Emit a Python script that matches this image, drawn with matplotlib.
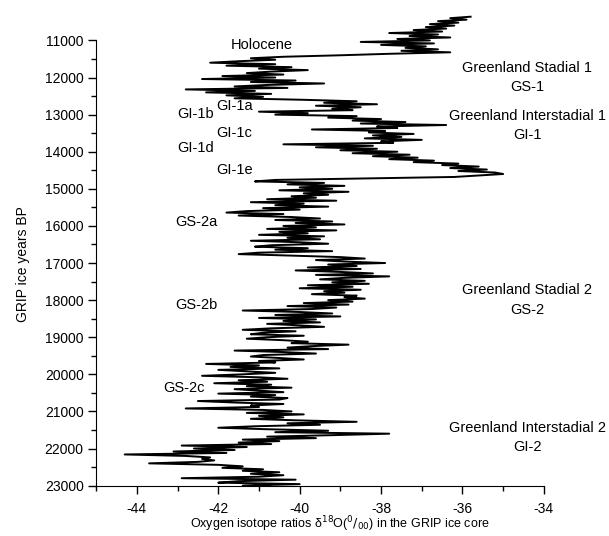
import matplotlib
matplotlib.use('Agg')
import matplotlib.pyplot as plt
from matplotlib.ticker import MultipleLocator, FixedLocator
import numpy as np

plt.rcParams['font.family'] = ['Liberation Sans', 'DejaVu Sans']
plt.rcParams['axes.unicode_minus'] = False

# ages sampled every 40 years, starting at 10360 ice years BP
AGE_START = 10360
AGE_STEP = 40

# delta 18O values (one row = 400 years)
d18o = [
    -35.8, -36.3, -35.9, -36.6, -36.1, -36.8, -36.2, -36.9, -36.4, -37.2,
    -36.5, -37.8, -36.6, -37.3, -36.3, -37.6, -36.8, -38.5, -36.7, -38.0,
    -36.9, -37.4, -36.6, -37.5, -36.3, -37.8, -39.0, -40.4, -41.2, -40.6,
    -41.5, -42.2, -40.6, -41.8, -40.2, -41.0, -39.8, -40.7, -41.3, -40.4,
    -41.9, -40.6, -42.4, -40.1, -41.2, -39.4, -40.8, -41.6, -40.3, -42.8,
    -41.1, -42.3, -40.7, -41.8, -40.9, -41.6, -39.9, -38.6, -39.4, -38.1,
    -39.6, -38.5, -39.2, -38.7, -41.0, -39.8, -40.6, -38.6, -39.3, -38.0,
    -38.7, -37.4, -38.5, -36.4, -38.1, -37.6, -39.7, -37.9, -38.3, -37.2,
    -38.2, -37.5, -38.4, -37.0, -38.0, -37.7, -40.4, -38.2, -39.6, -38.1,
    -39.0, -37.6, -38.7, -37.3, -38.2, -37.1, -37.8, -36.7, -37.2, -36.1,
    -36.5, -35.6, -36.3, -35.4, -36.1, -35.2, -35.0, -35.6, -36.2, -38.4,
    -40.6, -41.1, -39.4, -40.3, -38.9, -40.0, -39.2, -40.5, -38.8, -39.9,
    -39.3, -40.2, -39.6, -40.8, -39.1, -41.2, -39.9, -40.6, -39.3, -40.9,
    -40.0, -41.3, -41.8, -40.4, -41.5, -40.2, -39.5, -40.6, -39.2, -40.1,
    -38.9, -40.4, -39.6, -40.8, -39.1, -40.5, -39.8, -41.0, -39.4, -40.3,
    -39.5, -41.2, -40.0, -39.3, -40.7, -41.1, -39.8, -40.6, -39.2, -41.0,
    -41.5, -40.2, -39.0, -38.4, -39.6, -38.9, -37.9, -39.3, -38.6, -39.8,
    -38.5, -40.1, -39.0, -38.2, -39.6, -37.8, -38.9, -39.5, -38.4, -39.2,
    -38.3, -39.8, -38.7, -40.0, -38.5, -39.4, -38.9, -39.7, -38.6, -38.9,
    -38.4, -39.3, -38.7, -39.9, -38.8, -40.3, -39.1, -39.7, -41.4, -40.0,
    -39.2, -40.6, -39.0, -41.0, -39.6, -40.4, -39.5, -40.8, -40.0, -39.4,
    -40.7, -41.4, -40.1, -40.9, -41.2, -39.9, -40.8, -41.3, -40.4, -39.8,
    -40.2, -38.8, -39.7, -40.3, -39.3, -41.6, -40.4, -39.6, -40.9, -41.2,
    -40.5, -39.9, -41.0, -40.6, -42.3, -41.0, -41.7, -40.5, -42.0, -41.3,
    -40.6, -41.4, -42.4, -41.0, -40.3, -41.5, -40.8, -42.1, -40.7, -41.3,
    -40.2, -41.6, -41.0, -40.4, -42.0, -40.6, -41.2, -40.3, -40.5, -42.5,
    -41.6, -40.4, -41.2, -41.0, -42.8, -40.9, -40.2, -41.3, -39.9, -41.0,
    -40.4, -41.2, -40.1, -38.6, -40.3, -39.5, -41.1, -42.0, -40.8, -39.3,
    -40.6, -37.8, -39.2, -40.8, -39.6, -41.4, -40.5, -41.5, -40.7, -42.9,
    -41.3, -42.6, -41.6, -43.1, -41.8, -44.3, -42.8, -42.2, -42.4, -42.1,
    -42.5, -43.7, -42.0, -41.4, -41.9, -40.9, -41.4, -40.5, -41.2, -40.4,
    -41.0, -42.9, -40.1, -41.5, -42.0, -40.0, -41.4, -40.6,
]

ages = AGE_START + AGE_STEP * np.arange(len(d18o))

# period labels (x, y, text)
left_labels = [
    (-40.92, 11120, 'Holocene'),
    (-41.6, 12780, 'GI-1a'),
    (-42.55, 12970, 'GI-1b'),
    (-41.6, 13500, 'GI-1c'),
    (-42.55, 13900, 'GI-1d'),
    (-41.6, 14490, 'GI-1e'),
    (-42.55, 15890, 'GS-2a'),
    (-42.55, 18130, 'GS-2b'),
    (-42.85, 20380, 'GS-2c'),
]
right_labels = [
    (-34.41, 12000, 'Greenland Stadial 1\nGS-1'),
    (-34.41, 13290, 'Greenland Interstadial 1\nGI-1'),
    (-34.41, 18000, 'Greenland Stadial 2\nGS-2'),
    (-34.41, 21700, 'Greenland Interstadial 2\nGI-2'),
]

fig = plt.figure(figsize=(6.09, 5.36), dpi=100)
ax = fig.add_axes([0.158, 0.094, 0.735, 0.879])

ax.plot(d18o, ages, color='black', lw=1.4)

ax.set_xlim(-45, -34)
ax.set_ylim(23000, 10300)

for s in ['top', 'right']:
    ax.spines[s].set_visible(False)
ax.spines['left'].set_bounds(11000, 23000)

ax.set_yticks(range(11000, 23001, 1000))
ax.yaxis.set_minor_locator(FixedLocator(range(11500, 23000, 1000)))
ax.set_xticks(range(-44, -33, 2))
ax.xaxis.set_minor_locator(MultipleLocator(1))
ax.tick_params(which='major', direction='out', length=6, width=1, labelsize=10, pad=3)
ax.tick_params(which='minor', direction='out', length=3.5, width=1)
ax.tick_params(axis='x', pad=6)

ax.set_ylabel('GRIP ice years BP', fontsize=10)
ax.yaxis.set_label_coords(-0.148, 0.47)
ax.set_xlabel('Oxygen isotope ratios δ$^{18}$O($^{0}/_{00}$) in the GRIP ice core', fontsize=9)
ax.xaxis.set_label_coords(0.545, -0.062)

for x, y, t in left_labels:
    ax.text(x, y, t, ha='center', va='center', fontsize=10.5)
for x, y, t in right_labels:
    ax.text(x, y, t, ha='center', va='center', fontsize=10.5, linespacing=1.5)

fig.savefig('out.png', dpi=100)
